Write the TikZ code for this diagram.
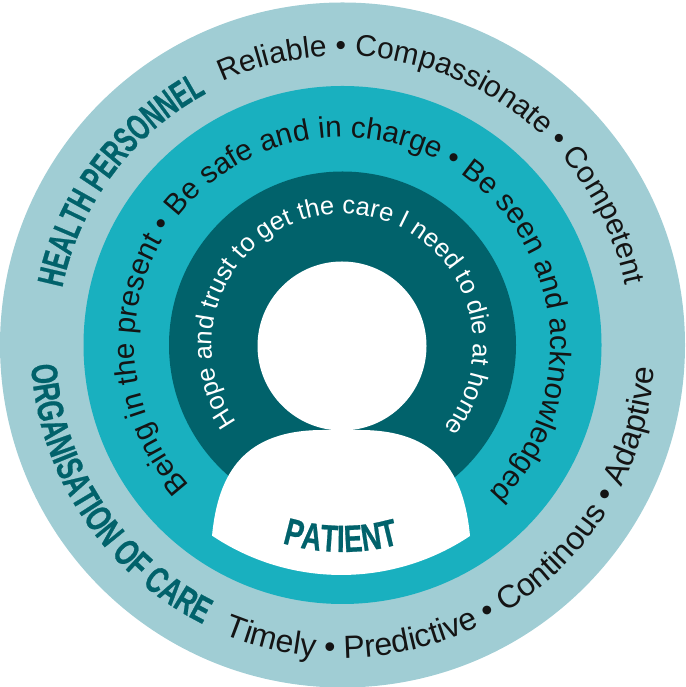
\documentclass[tikz,border=0pt]{standalone}
\usepackage{fontspec}
\usetikzlibrary{decorations.text}
\setmainfont{Liberation Sans}
\newfontface\condhealth[FakeStretch=0.64,FakeBold=0.6]{Liberation Sans Bold}
\newfontface\condorg[FakeStretch=0.70,FakeBold=0.6]{Liberation Sans Bold}
\newfontface\condpat[FakeStretch=0.73,FakeBold=0.6]{Liberation Sans Bold}
\definecolor{ringouter}{HTML}{A0CDD4}
\definecolor{ringmid}{HTML}{19B0BF}
\definecolor{ringdark}{HTML}{01626B}
\definecolor{inktext}{HTML}{141414}
% text set along a circle round the centre: #1 radius, #2 start angle, #3 end angle, #4 text
\newcommand{\ringtext}[4]{%
  \path[decorate,decoration={text along path,text align=left,text={#4}}]
    (342.5,342) ++(#2:#1) arc[start angle=#2,end angle=#3,radius=#1];}
\newcommand{\bodyface}[1]{\fontsize{#1}{#1}\selectfont}
\begin{document}
\begin{tikzpicture}[x=1pt,y=1pt]
\useasboundingbox (0,0) rectangle (685,687);
% concentric rings
\fill[ringouter] (342.5,342) circle[radius=342.5];
\fill[ringmid]   (342.5,342) circle[radius=259];
\fill[ringdark]  (342.5,342) circle[radius=173.5];
% figure: head and shoulders
\fill[white] (342,341) circle[radius=84.5];
\fill[white] (212,151)
  .. controls (218,215) and (245,257) .. (323,257)
  -- (360,257)
  .. controls (437,257) and (464,215) .. (470,151)
  arc[start angle=-56.3,end angle=-123.7,radius=232] -- cycle;
% outer ring texts
\ringtext{286}{168.5}{60}{|\condhealth\bodyface{37}\color{ringdark}|HEALTH PERSONNEL}
\ringtext{289}{114.5}{-20}{|\bodyface{30}\color{inktext}|Reliable • Compassionate • Competent}
\ringtext{312}{183.7}{260}{|\condorg\bodyface{37}\color{ringdark}|ORGANISATION OF CARE}
\ringtext{313}{247.7}{375}{|\bodyface{32}\color{inktext}|Timely • Predictive • Continous • Adaptive}
% middle ring text
\ringtext{208}{222.6}{-80}{|\bodyface{29.7}\color{inktext}|Being in the present • Be safe and in charge • Be seen and acknowledged}
% inner ring text
\ringtext{131}{216}{-80}{|\bodyface{25.5}\color{white}|Hope and trust to get the care I need to die at home}
% label on the figure
\path[decorate,decoration={text along path,text align=center,text={|\condpat\bodyface{38}\color{ringdark}|PATIENT}}]
  (342.5,342) ++(234.5:207) arc[start angle=234.5,end angle=304.5,radius=207];
\end{tikzpicture}
\end{document}
